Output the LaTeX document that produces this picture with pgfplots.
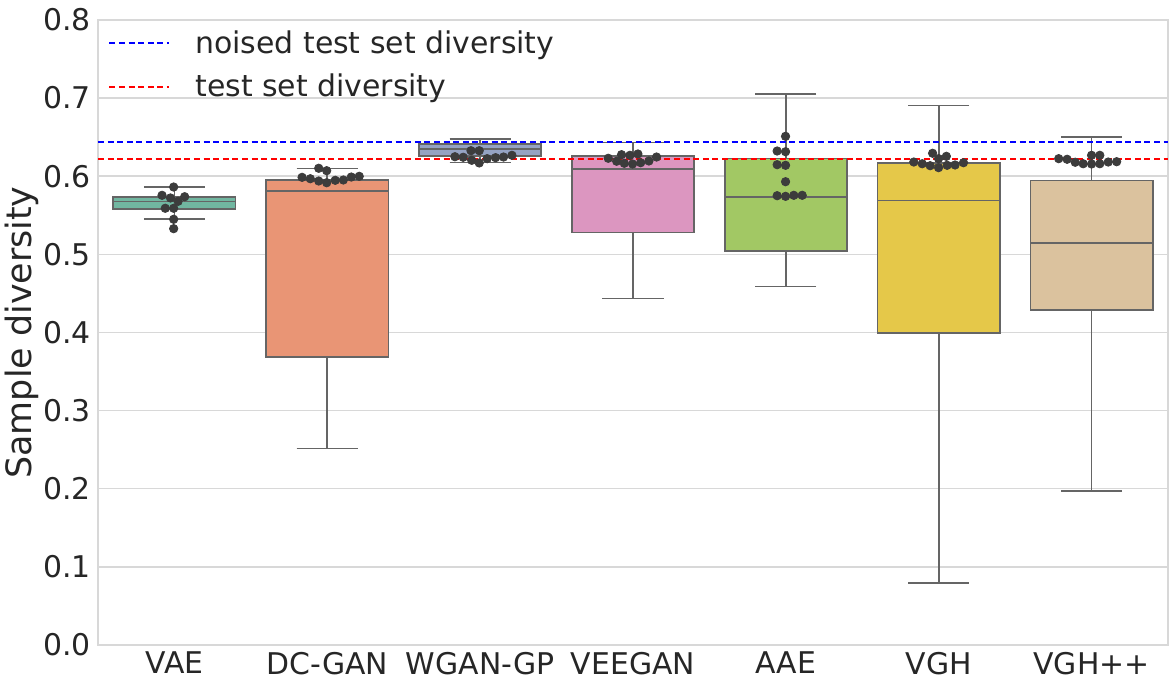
\documentclass[border=0pt]{standalone}
\usepackage{fontspec}
\setmainfont{DejaVu Sans}
\usepackage{pgfplots}
\pgfplotsset{compat=1.18}
\usepgfplotslibrary{statistics}
\definecolor{cA}{HTML}{71B7A1}
\definecolor{cB}{HTML}{E99575}
\definecolor{cC}{HTML}{95A3C3}
\definecolor{cD}{HTML}{DC96C0}
\definecolor{cE}{HTML}{A2C864}
\definecolor{cF}{HTML}{E5C849}
\definecolor{cG}{HTML}{DBC29E}
\definecolor{gridgray}{HTML}{D8D8D8}
\definecolor{linegray}{HTML}{656565}
\definecolor{ptgray}{HTML}{3C3C3C}
\definecolor{txt}{HTML}{262626}
\pgfplotsset{
  bx/.style={boxplot/draw direction=y, boxplot/box extend=0.8, boxplot/whisker extend=0.4,
    draw=linegray, line width=0.8bp, solid, mark=none, forget plot},
  pts/.style={only marks, mark=*, mark size=2.1bp, color=ptgray, forget plot}
}
\begin{document}
\begin{tikzpicture}
\begin{axis}[
  scale only axis, width=535bp, height=312.5bp,
  xmin=-0.5, xmax=6.5, ymin=0, ymax=0.8,
  xtick={0,1,2,3,4,5,6},
  xticklabels={VAE,DC-GAN,WGAN-GP,VEEGAN,AAE,VGH,VGH++},
  ytick={0,0.1,0.2,0.3,0.4,0.5,0.6,0.7,0.8},
  yticklabel style={/pgf/number format/.cd, fixed, fixed zerofill, precision=1, assume math mode=true},
  ymajorgrids, grid style={color=gridgray, line width=0.75bp},
  axis line style={gridgray, line width=0.75bp},
  major tick length=0pt,
  tick label style={font=\fontsize{15}{18}\selectfont, text=txt},
  ylabel={Sample diversity},
  ylabel style={font=\fontsize{17.5}{21}\selectfont, text=txt, at={(axis description cs:-0.071,0.5)}, anchor=center},
  legend style={at={(rel axis cs:0,1)}, anchor=north west, draw=none, fill=none,
    font=\fontsize{15}{18}\selectfont, text=txt, row sep=5bp, xshift=2bp, yshift=-1bp},
  legend cell align=left,
  legend image code/.code={\draw[#1] (0bp,0bp) -- (30bp,0bp); \path[draw=none] (0bp,0bp) -- (41bp,0bp);},
]
\addplot[bx, fill=cA, boxplot prepared={draw position=0, median=0.5679, upper quartile=0.5738, lower quartile=0.5581, upper whisker=0.5862, lower whisker=0.5449}] coordinates {};
\addplot[bx, fill=cB, boxplot prepared={draw position=1, median=0.5811, upper quartile=0.5952, lower quartile=0.369, upper whisker=0.6097, lower whisker=0.2513}] coordinates {};
\addplot[bx, fill=cC, boxplot prepared={draw position=2, median=0.6349, upper quartile=0.6413, lower quartile=0.6259, upper whisker=0.6477, lower whisker=0.6174}] coordinates {};
\addplot[bx, fill=cD, boxplot prepared={draw position=3, median=0.6089, upper quartile=0.6259, lower quartile=0.5278, upper whisker=0.6434, lower whisker=0.4437}] coordinates {};
\addplot[bx, fill=cE, boxplot prepared={draw position=4, median=0.5738, upper quartile=0.6225, lower quartile=0.5043, upper whisker=0.7049, lower whisker=0.4591}] coordinates {};
\addplot[bx, fill=cF, boxplot prepared={draw position=5, median=0.5692, upper quartile=0.617, lower quartile=0.399, upper whisker=0.6908, lower whisker=0.0794}] coordinates {};
\addplot[bx, fill=cG, boxplot prepared={draw position=6, median=0.5146, upper quartile=0.5943, lower quartile=0.4288, upper whisker=0.6506, lower whisker=0.1971}] coordinates {};
\addplot[blue, line width=1bp, dash pattern=on 3bp off 1.8bp] coordinates {(-0.5,0.644) (6.5,0.644)};
\addlegendentry{noised test set diversity}
\addplot[red, line width=1bp, dash pattern=on 3bp off 1.8bp] coordinates {(-0.5,0.622) (6.5,0.622)};
\addlegendentry{test set diversity}
\addplot[pts] coordinates {(-0.005,0.5862) (-0.081,0.5756) (-0.026,0.5722) (0.067,0.5738) (0.024,0.5679) (-0.06,0.559) (-0.005,0.559) (-0.005,0.5449) (-0.005,0.5329)};
\addplot[pts] coordinates {(0.944,0.6102) (0.996,0.6071) (0.835,0.5986) (0.889,0.5968) (0.944,0.5939) (0.996,0.5917) (1.052,0.5948) (1.105,0.5952) (1.157,0.599) (1.209,0.5999)};
\addplot[pts] coordinates {(1.94,0.6327) (1.994,0.6327) (1.835,0.625) (1.889,0.6243) (1.945,0.6204) (1.994,0.617) (2.046,0.6225) (2.101,0.6238) (2.153,0.6246) (2.208,0.6268)};
\addplot[pts] coordinates {(2.838,0.623) (2.893,0.6192) (2.925,0.6276) (2.943,0.6166) (2.98,0.6268) (2.997,0.6157) (3.032,0.6285) (3.05,0.6173) (3.104,0.6195) (3.154,0.6246)};
\addplot[pts] coordinates {(3.998,0.6511) (3.943,0.6323) (3.998,0.6314) (3.943,0.6148) (3.998,0.614) (3.998,0.593) (3.943,0.5751) (3.998,0.5743) (4.052,0.5756) (4.107,0.5756)};
\addplot[pts] coordinates {(4.837,0.6182) (4.892,0.616) (4.944,0.6135) (4.96,0.6294) (4.999,0.6225) (4.999,0.611) (5.05,0.6255) (5.055,0.614) (5.107,0.6144) (5.162,0.6173)};
\addplot[pts] coordinates {(5.785,0.6225) (5.84,0.6217) (5.893,0.6179) (5.945,0.616) (6,0.6268) (6,0.6157) (6.054,0.6268) (6.054,0.616) (6.109,0.6182) (6.164,0.6186)};
\end{axis}
\pgfresetboundingbox
\path ([xshift=-49bp,yshift=-20bp]current axis.south west) rectangle ([xshift=3bp,yshift=10bp]current axis.north east);
\end{tikzpicture}
\end{document}
